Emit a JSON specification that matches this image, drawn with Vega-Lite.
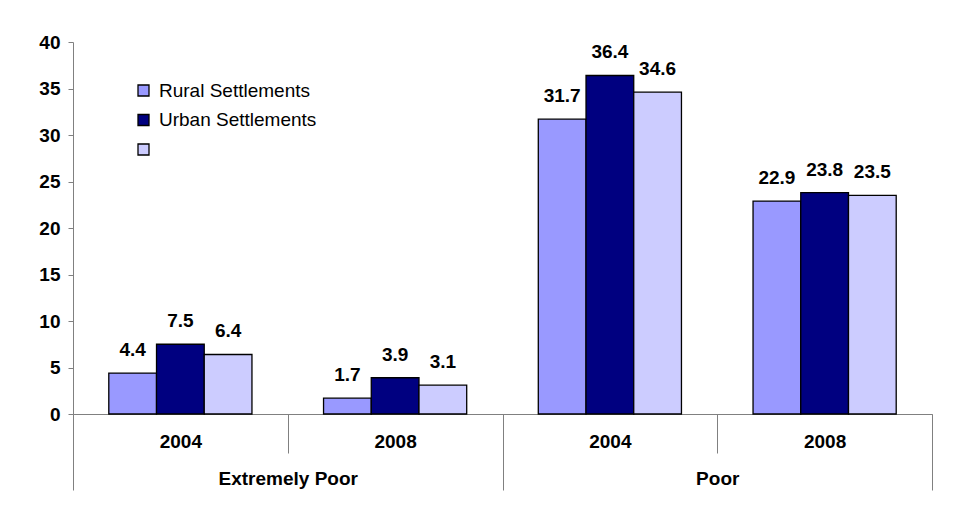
{
  "$schema": "https://vega.github.io/schema/vega-lite/v6.json",
  "width": 859,
  "height": 372,
  "autosize": "none",
  "padding": {"left": 73, "top": 42, "right": 25, "bottom": 107},
  "background": "white",
  "config": {"view": {"stroke": null}, "font": "Liberation Sans"},
  "data": {
    "values": [
      {"group": "Extremely Poor", "year": "2004", "cat": "Extremely Poor|2004", "series": "Rural Settlements", "value": 4.4},
      {"group": "Extremely Poor", "year": "2004", "cat": "Extremely Poor|2004", "series": "Urban Settlements", "value": 7.5},
      {"group": "Extremely Poor", "year": "2004", "cat": "Extremely Poor|2004", "series": " ", "value": 6.4},
      {"group": "Extremely Poor", "year": "2008", "cat": "Extremely Poor|2008", "series": "Rural Settlements", "value": 1.7},
      {"group": "Extremely Poor", "year": "2008", "cat": "Extremely Poor|2008", "series": "Urban Settlements", "value": 3.9},
      {"group": "Extremely Poor", "year": "2008", "cat": "Extremely Poor|2008", "series": " ", "value": 3.1},
      {"group": "Poor", "year": "2004", "cat": "Poor|2004", "series": "Rural Settlements", "value": 31.7},
      {"group": "Poor", "year": "2004", "cat": "Poor|2004", "series": "Urban Settlements", "value": 36.4},
      {"group": "Poor", "year": "2004", "cat": "Poor|2004", "series": " ", "value": 34.6},
      {"group": "Poor", "year": "2008", "cat": "Poor|2008", "series": "Rural Settlements", "value": 22.9},
      {"group": "Poor", "year": "2008", "cat": "Poor|2008", "series": "Urban Settlements", "value": 23.8},
      {"group": "Poor", "year": "2008", "cat": "Poor|2008", "series": " ", "value": 23.5}
    ]
  },
  "layer": [
    {
      "encoding": {
        "x": {
          "field": "cat",
          "type": "nominal",
          "sort": ["Extremely Poor|2004", "Extremely Poor|2008", "Poor|2004", "Poor|2008"],
          "scale": {"paddingInner": 0, "paddingOuter": 0},
          "axis": {
            "title": null,
            "orient": "bottom",
            "labelExpr": "split(datum.value, '|')[1]",
            "labelAngle": 0,
            "tickBand": "extent",
            "tickSize": 39,
            "tickColor": "#808080",
            "domainColor": "#808080",
            "labelBaseline": "middle",
            "labelPadding": -12,
            "labelFontSize": 19,
            "labelFontWeight": "bold",
            "labelColor": "black"
          }
        },
        "xOffset": {
          "field": "series",
          "sort": ["Rural Settlements", "Urban Settlements", " "],
          "scale": {"paddingInner": 0, "paddingOuter": 0.75}
        },
        "y": {
          "field": "value",
          "type": "quantitative",
          "scale": {"domain": [0, 40]},
          "axis": {
            "title": null,
            "values": [0, 5, 10, 15, 20, 25, 30, 35, 40],
            "grid": false,
            "domainColor": "#808080",
            "tickColor": "#808080",
            "tickSize": 5,
            "labelPadding": 8,
            "labelFontSize": 19,
            "labelFontWeight": "bold",
            "labelColor": "black"
          }
        }
      },
      "layer": [
        {
          "mark": {"type": "bar", "stroke": "black", "strokeWidth": 1.3},
          "encoding": {
            "color": {
              "field": "series",
              "type": "nominal",
              "scale": {
                "domain": ["Rural Settlements", "Urban Settlements", " "],
                "range": ["#9999FF", "#000080", "#CCCCFF"]
              },
              "legend": {
                "title": null,
                "orient": "none",
                "legendX": 61,
                "legendY": 39,
                "padding": 0,
                "symbolType": "square",
                "symbolSize": 121,
                "symbolStrokeColor": "black",
                "symbolStrokeWidth": 1.3,
                "symbolOpacity": 1,
                "labelFontSize": 19,
                "labelColor": "black",
                "labelOffset": 6,
                "rowPadding": 9.5
              }
            }
          }
        },
        {
          "mark": {"type": "text", "baseline": "middle", "dy": -23, "fontSize": 19, "fontWeight": "bold", "color": "black"},
          "encoding": {
            "text": {"field": "value", "type": "quantitative", "format": ".1f"}
          }
        }
      ]
    },
    {
      "mark": {"type": "rule", "opacity": 0},
      "encoding": {
        "x": {
          "field": "group",
          "type": "nominal",
          "sort": ["Extremely Poor", "Poor"],
          "scale": {"paddingInner": 0, "paddingOuter": 0},
          "axis": {
            "title": null,
            "orient": "bottom",
            "labelAngle": 0,
            "domain": false,
            "tickBand": "extent",
            "tickSize": 76,
            "tickColor": "#808080",
            "labelBaseline": "middle",
            "labelPadding": -12,
            "labelFontSize": 19,
            "labelFontWeight": "bold",
            "labelColor": "black"
          }
        }
      }
    }
  ],
  "resolve": {"scale": {"x": "independent"}}
}
